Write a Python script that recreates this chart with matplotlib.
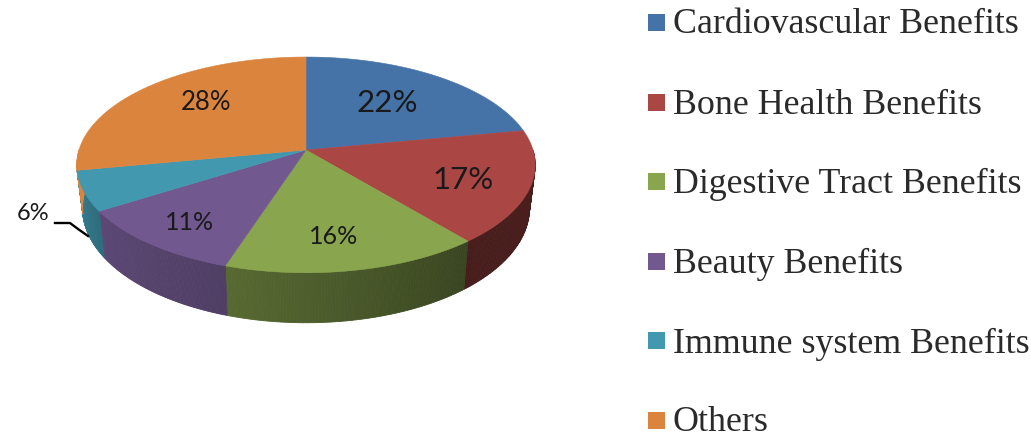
import numpy as np
import matplotlib
matplotlib.use("Agg")
import matplotlib.pyplot as plt
from matplotlib.colors import to_rgb
from matplotlib.patches import Polygon, Rectangle

categories = ["Cardiovascular Benefits", "Bone Health Benefits", "Digestive Tract Benefits",
              "Beauty Benefits", "Immune system Benefits", "Others"]
values = [22, 17, 16, 11, 6, 28]
labels = ["22%", "17%", "16%", "11%", "6%", "28%"]
colors = ["#4572a7", "#aa4643", "#89a54e", "#71588f", "#4198af", "#db843d"]
side_left = [1.0, 0.42, 0.64, 0.82, 0.85, 1.0]
side_right = [1.0, 0.44, 0.42, 0.70, 0.72, 1.0]
label_pos = [(387, 103), (463, 180), (334, 237), (190, 222), (33, 214), (206, 102)]
label_size = [22.5, 22.5, 18, 18, 17, 18.5]
legend_box_y = [22, 102, 181, 261, 340, 420]
legend_base_y = [33, 114, 193, 273, 353, 431]

CX, CY, A, B, K = 306, 150, 227, 105.8, 0.138
D0, D1, SHRINK = 42, 8, 0.975


def project(theta):
    u, v = np.cos(theta), np.sin(theta)
    w = 1 + K * v
    return CX + A * u / w, CY - B * v / w


def project_bottom(theta):
    x, y = project(theta)
    return CX + (x - CX) * SHRINK, y + D0 - D1 * np.sin(theta)


fig = plt.figure(figsize=(10.31, 4.34), dpi=100)
ax = fig.add_axes([0, 0, 1, 1])
ax.set_xlim(0, 1031)
ax.set_ylim(434, 0)
ax.axis("off")

edges = np.cumsum([0] + values) / sum(values) * 2 * np.pi
starts = np.pi / 2 - edges[:-1]
ends = np.pi / 2 - edges[1:]

# side wall
for s, e, c, sl, sr in zip(starts, ends, colors, side_left, side_right):
    ts = np.linspace(e, s, 90)
    rgb = np.array(to_rgb(c))
    for i, (t0, t1) in enumerate(zip(ts[:-1], ts[1:])):
        if np.sin((t0 + t1) / 2) > 0.0:
            continue
        x0, y0 = project(t0)
        x1, y1 = project(t1)
        bx0, by0 = project_bottom(t0)
        bx1, by1 = project_bottom(t1)
        f = sl + (sr - sl) * i / (len(ts) - 2)
        ax.add_patch(Polygon([(x0, y0), (x1, y1), (bx1, by1), (bx0, by0)],
                             closed=True, fc=rgb * f, ec=rgb * f, lw=0.6, zorder=2))

# top face
for s, e, c in zip(starts, ends, colors):
    ts = np.linspace(s, e, 120)
    xs, ys = project(ts)
    pts = [(CX, CY)] + list(zip(xs, ys))
    ax.add_patch(Polygon(pts, closed=True, fc=c, ec=c, lw=0.4, zorder=3))

# data labels
for (x, y), t, fs in zip(label_pos, labels, label_size):
    ax.text(x, y, t, fontsize=fs, family="Lato", color="#1a1a1a",
            ha="center", va="center", zorder=5)

# leader line of the 6% label
ax.plot([55, 70, 78, 88], [223, 223, 229, 236],
        color="black", lw=1.7, zorder=5)

# legend
for by, ty, c, name in zip(legend_box_y, legend_base_y, colors, categories):
    ax.add_patch(Rectangle((648, by - 8.5), 17, 17, fc=c, ec="none", zorder=5))
    ax.text(673, ty, name, fontsize=25.8, family="Liberation Serif", color="#2a2a2a",
            ha="left", va="baseline", zorder=5)

fig.savefig("out.png", dpi=100)
